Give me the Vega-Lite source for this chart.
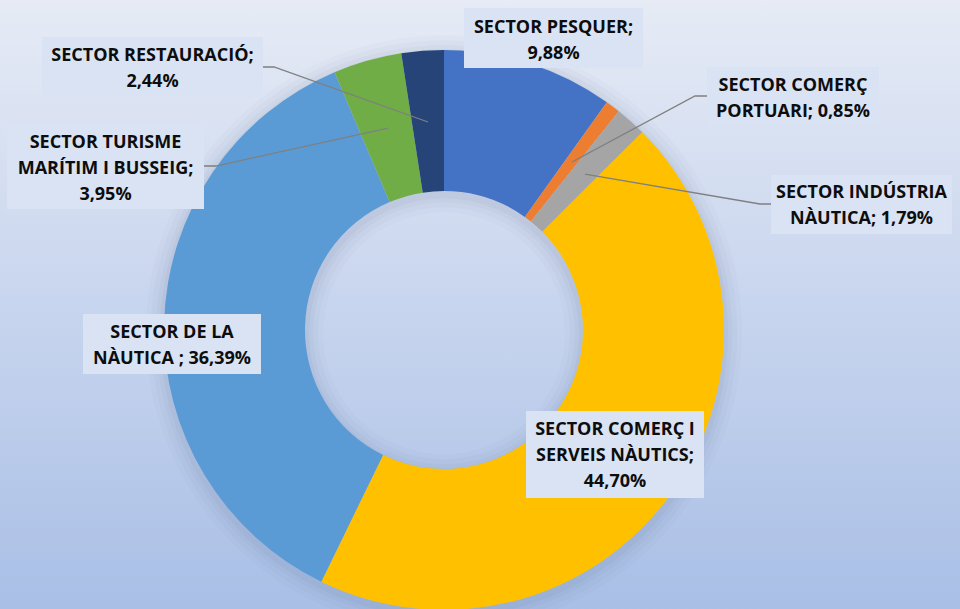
{
  "$schema": "https://vega.github.io/schema/vega-lite/v6.json",
  "width": 960,
  "height": 609,
  "autosize": "none",
  "padding": 0,
  "config": {
    "view": {
      "stroke": null,
      "fill": {"gradient": "linear", "x1": 0, "y1": 0, "x2": 0, "y2": 1,
        "stops": [{"offset": 0, "color": "#e6ebf5"}, {"offset": 0.5, "color": "#c8d5ee"}, {"offset": 1, "color": "#a9bfe6"}]}
    }
  },
  "datasets": {
    "slices": [
      {"sector": "SECTOR PESQUER", "value": 9.88, "ord": 1},
      {"sector": "SECTOR COMERÇ PORTUARI", "value": 0.85, "ord": 2},
      {"sector": "SECTOR INDÚSTRIA NÀUTICA", "value": 1.79, "ord": 3},
      {"sector": "SECTOR COMERÇ I SERVEIS NÀUTICS", "value": 44.70, "ord": 4},
      {"sector": "SECTOR DE LA NÀUTICA", "value": 36.39, "ord": 5},
      {"sector": "SECTOR TURISME MARÍTIM I BUSSEIG", "value": 3.95, "ord": 6},
      {"sector": "SECTOR RESTAURACIÓ", "value": 2.44, "ord": 7}
    ],
    "labels": [
      {"sector": "SECTOR PESQUER", "label": "SECTOR PESQUER;|9,88%", "tx": 39.11, "ty": 107.86, "bx1": 7.14, "bx2": 71.07, "by1": 115.0, "by2": 93.57},
      {"sector": "SECTOR COMERÇ PORTUARI", "label": "SECTOR COMERÇ|PORTUARI; 0,85%", "tx": 124.64, "ty": 87.14, "bx1": 93.93, "bx2": 155.36, "by1": 93.93, "by2": 72.86},
      {"sector": "SECTOR INDÚSTRIA NÀUTICA", "label": "SECTOR INDÚSTRIA|NÀUTICA; 1,79%", "tx": 149.11, "ty": 48.93, "bx1": 116.79, "bx2": 181.43, "by1": 55.36, "by2": 34.29},
      {"sector": "SECTOR COMERÇ I SERVEIS NÀUTICS", "label": "SECTOR COMERÇ I|SERVEIS NÀUTICS;|44,70%", "tx": 61.07, "ty": -35.71, "bx1": 29.29, "bx2": 92.86, "by1": -28.93, "by2": -60.0},
      {"sector": "SECTOR DE LA NÀUTICA", "label": "SECTOR DE LA|NÀUTICA ; 36,39%", "tx": -97.14, "ty": -1.07, "bx1": -128.93, "bx2": -65.36, "by1": 5.71, "by2": -15.71},
      {"sector": "SECTOR TURISME MARÍTIM I BUSSEIG", "label": "SECTOR TURISME|MARÍTIM I BUSSEIG;|3,95%", "tx": -120.89, "ty": 66.79, "bx1": -156.07, "bx2": -85.71, "by1": 73.57, "by2": 43.21},
      {"sector": "SECTOR RESTAURACIÓ", "label": "SECTOR RESTAURACIÓ;|2,44%", "tx": -104.11, "ty": 97.86, "bx1": -143.57, "bx2": -64.64, "by1": 104.64, "by2": 83.21}
    ],
    "leaders": [
      {"sector": "SECTOR RESTAURACIÓ", "pt": 1, "lx": -64.64, "ly": 93.93},
      {"sector": "SECTOR RESTAURACIÓ", "pt": 2, "lx": -60.71, "ly": 93.93},
      {"sector": "SECTOR RESTAURACIÓ", "pt": 3, "lx": -5.71, "ly": 74.29},
      {"sector": "SECTOR TURISME MARÍTIM I BUSSEIG", "pt": 1, "lx": -85.71, "ly": 58.57},
      {"sector": "SECTOR TURISME MARÍTIM I BUSSEIG", "pt": 2, "lx": -81.43, "ly": 58.57},
      {"sector": "SECTOR TURISME MARÍTIM I BUSSEIG", "pt": 3, "lx": -20.0, "ly": 72.14},
      {"sector": "SECTOR COMERÇ PORTUARI", "pt": 1, "lx": 93.93, "ly": 83.57},
      {"sector": "SECTOR COMERÇ PORTUARI", "pt": 2, "lx": 89.64, "ly": 83.57},
      {"sector": "SECTOR COMERÇ PORTUARI", "pt": 3, "lx": 45.71, "ly": 60.0},
      {"sector": "SECTOR INDÚSTRIA NÀUTICA", "pt": 1, "lx": 116.79, "ly": 45.0},
      {"sector": "SECTOR INDÚSTRIA NÀUTICA", "pt": 2, "lx": 112.86, "ly": 45.0},
      {"sector": "SECTOR INDÚSTRIA NÀUTICA", "pt": 3, "lx": 50.36, "ly": 55.71}
    ],
    "one": [{"k": 1}]
  },
  "layer": [
    {
      "data": {"name": "one"},
      "mark": {"type": "arc", "radius": 298, "radius2": 121, "theta": 0, "theta2": 6.2832, "color": "#4a5a80", "opacity": 0.025},
      "encoding": {
        "x": {"datum": 0, "type": "quantitative", "scale": {"domain": [-158.57, 184.29], "nice": false, "zero": false}, "axis": null},
        "y": {"datum": -1.2, "type": "quantitative", "scale": {"domain": [-99.64, 117.86], "nice": false, "zero": false}, "axis": null}
      }
    },
    {
      "data": {"name": "one"},
      "mark": {"type": "arc", "radius": 293, "radius2": 126, "theta": 0, "theta2": 6.2832, "color": "#4a5a80", "opacity": 0.03},
      "encoding": {
        "x": {"datum": 0, "type": "quantitative", "scale": {"domain": [-158.57, 184.29], "nice": false, "zero": false}, "axis": null},
        "y": {"datum": -1.2, "type": "quantitative", "scale": {"domain": [-99.64, 117.86], "nice": false, "zero": false}, "axis": null}
      }
    },
    {
      "data": {"name": "one"},
      "mark": {"type": "arc", "radius": 288, "radius2": 131, "theta": 0, "theta2": 6.2832, "color": "#4a5a80", "opacity": 0.04},
      "encoding": {
        "x": {"datum": 0, "type": "quantitative", "scale": {"domain": [-158.57, 184.29], "nice": false, "zero": false}, "axis": null},
        "y": {"datum": -1.2, "type": "quantitative", "scale": {"domain": [-99.64, 117.86], "nice": false, "zero": false}, "axis": null}
      }
    },
    {
      "data": {"name": "one"},
      "mark": {"type": "arc", "radius": 284, "radius2": 135, "theta": 0, "theta2": 6.2832, "color": "#4a5a80", "opacity": 0.05},
      "encoding": {
        "x": {"datum": 0, "type": "quantitative", "scale": {"domain": [-158.57, 184.29], "nice": false, "zero": false}, "axis": null},
        "y": {"datum": -1.2, "type": "quantitative", "scale": {"domain": [-99.64, 117.86], "nice": false, "zero": false}, "axis": null}
      }
    },
    {
      "data": {"name": "slices"},
      "mark": {"type": "arc", "radius": 280, "radius2": 139, "stroke": null},
      "encoding": {
        "x": {"datum": 0, "type": "quantitative", "scale": {"domain": [-158.57, 184.29], "nice": false, "zero": false}, "axis": null},
        "y": {"datum": 0, "type": "quantitative", "scale": {"domain": [-99.64, 117.86], "nice": false, "zero": false}, "axis": null},
        "theta": {"field": "value", "type": "quantitative", "stack": true},
        "order": {"field": "ord", "type": "quantitative"},
        "color": {
          "field": "sector", "type": "nominal", "legend": null,
          "scale": {
            "domain": ["SECTOR PESQUER", "SECTOR COMERÇ PORTUARI", "SECTOR INDÚSTRIA NÀUTICA", "SECTOR COMERÇ I SERVEIS NÀUTICS", "SECTOR DE LA NÀUTICA", "SECTOR TURISME MARÍTIM I BUSSEIG", "SECTOR RESTAURACIÓ"],
            "range": ["#4472c4", "#ed7d31", "#a5a5a5", "#ffc000", "#5b9bd5", "#70ad47", "#264478"]
          }
        }
      }
    },
    {
      "data": {"name": "leaders"},
      "mark": {"type": "line", "color": "#7f7f7f", "strokeWidth": 1.3},
      "encoding": {
        "x": {"field": "lx", "type": "quantitative", "scale": {"domain": [-158.57, 184.29], "nice": false, "zero": false}, "axis": null},
        "y": {"field": "ly", "type": "quantitative", "scale": {"domain": [-99.64, 117.86], "nice": false, "zero": false}, "axis": null},
        "detail": {"field": "sector", "type": "nominal"},
        "order": {"field": "pt", "type": "quantitative"}
      }
    },
    {
      "data": {"name": "labels"},
      "mark": {"type": "rect", "color": "#2a3550", "opacity": 0.1, "xOffset": 4, "yOffset": 4},
      "encoding": {
        "x": {"field": "bx1", "type": "quantitative", "scale": {"domain": [-158.57, 184.29], "nice": false, "zero": false}, "axis": null},
        "x2": {"field": "bx2"},
        "y": {"field": "by1", "type": "quantitative", "scale": {"domain": [-99.64, 117.86], "nice": false, "zero": false}, "axis": null},
        "y2": {"field": "by2"}
      }
    },
    {
      "data": {"name": "labels"},
      "mark": {"type": "rect", "color": "#2a3550", "opacity": 0.15, "xOffset": 2, "yOffset": 2},
      "encoding": {
        "x": {"field": "bx1", "type": "quantitative", "scale": {"domain": [-158.57, 184.29], "nice": false, "zero": false}, "axis": null},
        "x2": {"field": "bx2"},
        "y": {"field": "by1", "type": "quantitative", "scale": {"domain": [-99.64, 117.86], "nice": false, "zero": false}, "axis": null},
        "y2": {"field": "by2"}
      }
    },
    {
      "data": {"name": "labels"},
      "mark": {"type": "rect", "color": "#dae3f3", "opacity": 1},
      "encoding": {
        "x": {"field": "bx1", "type": "quantitative", "scale": {"domain": [-158.57, 184.29], "nice": false, "zero": false}, "axis": null},
        "x2": {"field": "bx2"},
        "y": {"field": "by1", "type": "quantitative", "scale": {"domain": [-99.64, 117.86], "nice": false, "zero": false}, "axis": null},
        "y2": {"field": "by2"}
      }
    },
    {
      "data": {"name": "labels"},
      "mark": {"type": "text", "font": "Open Sans", "fontWeight": "bold", "fontSize": 18, "color": "#0d0d0d", "align": "center", "baseline": "middle", "lineBreak": "|", "lineHeight": 26},
      "encoding": {
        "x": {"field": "tx", "type": "quantitative", "scale": {"domain": [-158.57, 184.29], "nice": false, "zero": false}, "axis": null},
        "y": {"field": "ty", "type": "quantitative", "scale": {"domain": [-99.64, 117.86], "nice": false, "zero": false}, "axis": null},
        "text": {"field": "label", "type": "nominal"}
      }
    }
  ]
}
